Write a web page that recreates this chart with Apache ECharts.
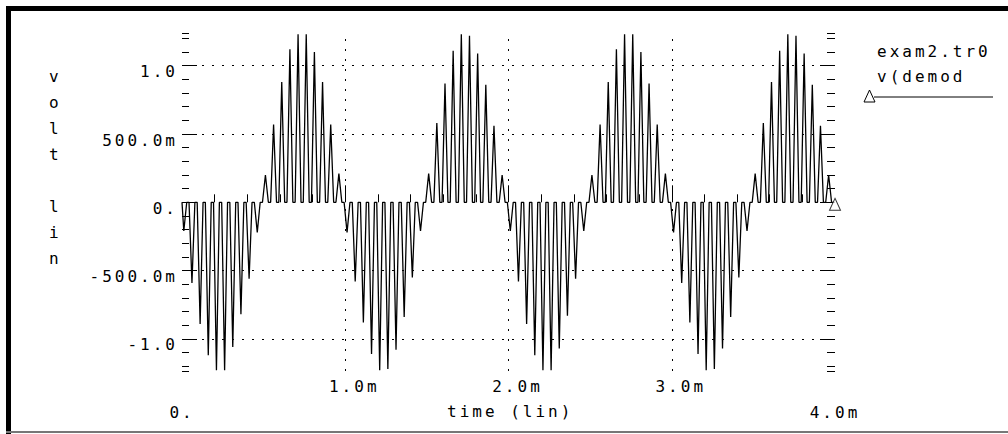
<!DOCTYPE html>
<html><head><meta charset="utf-8">
<script src="https://cdn.jsdelivr.net/npm/echarts@6/dist/echarts.min.js"></script>
<style>
html,body{margin:0;padding:0;background:#fff;}
#c{width:1008px;height:434px;letter-spacing:3px;}
</style></head><body><div id="c"></div>
<script>
// ---- data (time in ms, voltage in V) ----
const spikeTimesMs = [
  0.011,0.061,0.111,0.161,0.211,0.261,0.311,0.361,0.411,0.461,
  0.511,0.561,0.611,0.661,0.711,0.761,0.811,0.861,0.911,0.961,
  1.011,1.061,1.111,1.161,1.211,1.261,1.311,1.361,1.411,1.461,
  1.511,1.561,1.611,1.661,1.711,1.761,1.811,1.861,1.911,1.961,
  2.011,2.061,2.111,2.161,2.211,2.261,2.311,2.361,2.411,2.461,
  2.511,2.561,2.611,2.661,2.711,2.761,2.811,2.861,2.911,2.961,
  3.011,3.061,3.111,3.161,3.211,3.261,3.311,3.361,3.411,3.461,
  3.511,3.561,3.611,3.661,3.711,3.761,3.811,3.861,3.911,3.961
];
const spikeVolts = [
  -0.21,-0.59,-0.89,-1.12,-1.23,-1.23,-1.06,-0.82,-0.56,-0.22,
   0.20, 0.57, 0.88, 1.12, 1.23, 1.23, 1.10, 0.88, 0.57, 0.21,
  -0.22,-0.58,-0.88,-1.11,-1.23,-1.22,-1.08,-0.84,-0.55,-0.21,
   0.21, 0.58, 0.87, 1.11, 1.23, 1.22, 1.09, 0.86, 0.56, 0.20,
  -0.21,-0.58,-0.89,-1.12,-1.23,-1.23,-1.07,-0.83,-0.56,-0.21,
   0.20, 0.57, 0.88, 1.12, 1.23, 1.23, 1.10, 0.87, 0.57, 0.21,
  -0.22,-0.59,-0.88,-1.11,-1.23,-1.22,-1.07,-0.84,-0.55,-0.21,
   0.21, 0.58, 0.88, 1.11, 1.23, 1.22, 1.09, 0.86, 0.56, 0.20
];
const baselineVolt = 0;
const spikeHalfWidthMs = 0.018;
const timeRangeMs = [0, 4];
const voltRange = [-1.235, 1.235];

const yMajorTicks = [-1, -0.5, 0, 0.5, 1];
const yMajorLabels = ['-1.0', '-500.0m', '0.', '500.0m', '1.0'];
const yMinorTicks = [-1.235,-1.2,-1.1,-0.9,-0.8,-0.7,-0.6,-0.4,-0.3,-0.2,-0.1,
                     0.1,0.2,0.3,0.4,0.6,0.7,0.8,0.9,1.1,1.2,1.235];
const yGridValues = [-1, -0.5, 0.5, 1];
const xMajorTicks = [1, 2, 3];
const xMajorLabels = ['1.0m', '2.0m', '3.0m'];
const xMinorTicks = [0.2,0.4,0.6,0.8,1.2,1.4,1.6,1.8,2.2,2.4,2.6,2.8,3.2,3.4,3.6,3.8];
const xEndTicks = [0, 4];
const xEndLabels = ['0.', '4.0m'];
const xGridValues = [1, 2, 3];
const seriesName = 'v(demod';
const fileName = 'exam2.tr0';
const xTitle = 'time (lin)';
const yTitle = 'volt lin';

// ---- build the polyline from the spike table ----
const wave = [[timeRangeMs[0], baselineVolt]];
for (let i = 0; i < spikeTimesMs.length; i++) {
  const t = spikeTimesMs[i];
  wave.push([Math.max(timeRangeMs[0], t - spikeHalfWidthMs), baselineVolt]);
  wave.push([t, spikeVolts[i]]);
  wave.push([Math.min(timeRangeMs[1], t + spikeHalfWidthMs), baselineVolt]);
}
wave.push([timeRangeMs[1], baselineVolt]);
const endPoint = wave[wave.length - 1];

const FONT = 'DejaVu Sans Mono';
const black = '#000';
const fmtLookup = (vals, labels) => v => {
  const i = vals.findIndex(x => Math.abs(x - v) < 1e-9);
  return i >= 0 ? labels[i] : '';
};
const dotted = { color: black, width: 1, type: [2, 8] };

const chart = echarts.init(document.getElementById('c'), null, { renderer: 'svg' });
const yBase = (pos, len, ticks, label) => ({
  type: 'value', position: pos, min: voltRange[0], max: voltRange[1],
  axisLine: { show: false },
  axisTick: { show: true, inside: true, length: len, customValues: ticks, lineStyle: { color: black, width: 1 } },
  axisLabel: label ? {
    show: true, customValues: yMajorTicks, formatter: fmtLookup(yMajorTicks, yMajorLabels),
    color: black, fontFamily: FONT, fontSize: 16, margin: 4, verticalAlign: 'top', lineHeight: 12
  } : { show: false },
  splitLine: { show: false }
});
chart.setOption({
  animation: false,
  backgroundColor: '#fff',
  grid: { left: 182, right: 173, top: 33.6, bottom: 63 },
  xAxis: [
    {
      type: 'value', min: timeRangeMs[0], max: timeRangeMs[1], position: 'bottom',
      axisLine: { show: false },
      axisTick: { show: true, inside: true, length: 17, customValues: xMajorTicks, lineStyle: { color: black } },
      axisLabel: { show: true, customValues: xMajorTicks, formatter: fmtLookup(xMajorTicks, xMajorLabels),
        color: black, fontFamily: FONT, fontSize: 16, margin: 7, padding: [0, 0, 0, 18] },
      splitLine: { show: false }
    },
    {
      type: 'value', min: timeRangeMs[0], max: timeRangeMs[1], position: 'bottom',
      axisLine: { show: false },
      axisTick: { show: true, inside: true, length: 8, customValues: xMinorTicks, lineStyle: { color: black } },
      axisLabel: { show: true, customValues: xEndTicks, formatter: fmtLookup(xEndTicks, xEndLabels),
        color: black, fontFamily: FONT, fontSize: 16, margin: 33 },
      splitLine: { show: false }
    }
  ],
  yAxis: [
    yBase('left', 15, yMajorTicks, true),
    yBase('left', 7, yMinorTicks, false),
    yBase('right', 15, yMajorTicks, false),
    yBase('right', 8, yMinorTicks, false)
  ],
  graphic: [
    { type: 'rect', shape: { x: 6, y: 6, width: 1002, height: 5 }, style: { fill: black }, silent: true },
    { type: 'rect', shape: { x: 6, y: 6, width: 5, height: 428 }, style: { fill: black }, silent: true },
    { type: 'rect', shape: { x: 6, y: 431, width: 1002, height: 2 }, style: { fill: '#777' }, silent: true },
    { type: 'text', left: 49, top: 63, style: { text: yTitle.split('').join('\n'), lineHeight: 26, font: '16px ' + FONT, fill: black, align: 'left' } },
    { type: 'text', left: 447, top: 403, style: { text: xTitle, font: '16px ' + FONT, fill: black } },
    { type: 'text', left: 877, top: 43, style: { text: fileName, font: '16px ' + FONT, fill: black } },
    { type: 'text', left: 877, top: 68, style: { text: seriesName, font: '16px ' + FONT, fill: black } },
    { type: 'line', shape: { x1: 874, y1: 97, x2: 993, y2: 97 }, style: { stroke: black, lineWidth: 1 } },
    { type: 'polygon', shape: { points: [[869.5, 90], [864, 102], [875, 102]] }, style: { fill: '#fff', stroke: black, lineWidth: 1 } }
  ],
  series: [
    {
      name: seriesName, type: 'line', xAxisIndex: 0, yAxisIndex: 0,
      data: wave, showSymbol: false, symbol: 'none',
      lineStyle: { color: black, width: 1.3 }, z: 3,
      markLine: {
        silent: true, symbol: 'none', label: { show: false },
        lineStyle: dotted,
        data: yGridValues.map(v => ({ yAxis: v })).concat(xGridValues.map(v => ({ xAxis: v })))
      }
    },
    {
      type: 'scatter', xAxisIndex: 0, yAxisIndex: 0,
      data: [endPoint], symbol: 'triangle', symbolSize: [11, 12], symbolOffset: [0, 2],
      itemStyle: { color: '#fff', borderColor: black, borderWidth: 1 }, z: 5
    }
  ]
});
</script></body></html>
